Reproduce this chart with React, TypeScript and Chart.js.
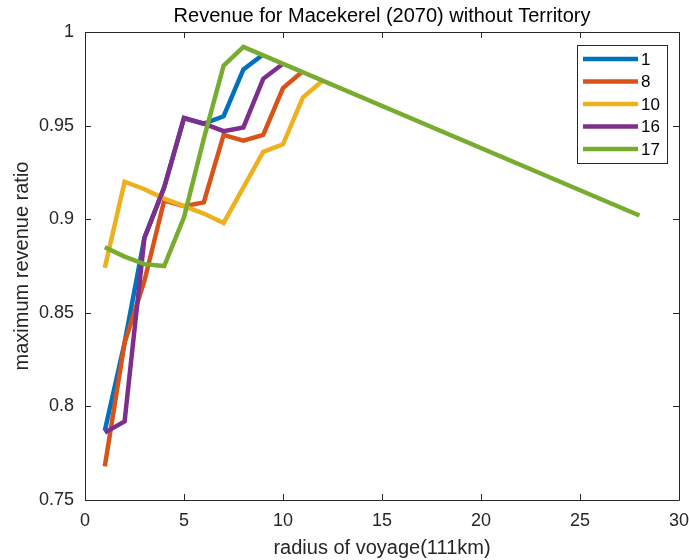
import React, { useEffect, useRef } from 'react';
import { Chart, registerables } from 'chart.js';

Chart.register(...registerables);

const TITLE = 'Revenue for Macekerel (2070) without Territory';
const X_LABEL = 'radius of voyage(111km)';
const Y_LABEL = 'maximum revenue ratio';

const SERIES_NAMES = ['1', '8', '10', '16', '17'];
const COLORS = ['#0072BD', '#D95319', '#EDB120', '#7E2F8E', '#77AC30'];

const X_TICKS = [0, 5, 10, 15, 20, 25, 30];
const Y_TICKS = [0.75, 0.8, 0.85, 0.9, 0.95, 1];

const x1 = [1, 2, 3, 4, 5, 6, 7, 8, 9];
const y1 = [0.787, 0.834, 0.89, 0.917, 0.954, 0.951, 0.955, 0.98, 0.988];

const x8 = [1, 2, 3, 4, 5, 6, 7, 8, 9, 10, 11];
const y8 = [0.768, 0.834, 0.867, 0.91, 0.907, 0.909, 0.945, 0.942, 0.945, 0.97, 0.979];

const x10 = [1, 2, 3, 4, 5, 6, 7, 8, 9, 10, 11, 12];
const y10 = [0.874, 0.92, 0.916, 0.911, 0.907, 0.903, 0.898, 0.917, 0.936, 0.94, 0.965, 0.974];

const x16 = [1, 2, 3, 4, 5, 6, 7, 8, 9, 10];
const y16 = [0.786, 0.792, 0.89, 0.917, 0.954, 0.951, 0.947, 0.949, 0.975, 0.983];

const x17 = [1, 2, 3, 4, 5, 6, 7, 8, 28];
const y17 = [0.885, 0.88, 0.876, 0.875, 0.901, 0.943, 0.982, 0.992, 0.902];

const XS = [x1, x8, x10, x16, x17];
const YS = [y1, y8, y10, y16, y17];

const FONT = '"Liberation Sans", Arial, Helvetica, sans-serif';
const AXIS_COLOR = '#262626';

const framePlugin = {
  id: 'matlabFrame',
  afterDraw(chart: any) {
    const { ctx, chartArea } = chart;
    const { left, right, top, bottom } = chartArea;
    const xs = chart.scales.x;
    const ys = chart.scales.y;
    ctx.save();
    ctx.strokeStyle = AXIS_COLOR;
    ctx.lineWidth = 1;
    ctx.beginPath();
    ctx.rect(Math.round(left) + 0.5, Math.round(top) + 0.5, Math.round(right - left), Math.round(bottom - top));
    ctx.stroke();
    const tl = 6;
    ctx.beginPath();
    X_TICKS.forEach((v) => {
      const px = Math.round(xs.getPixelForValue(v)) + 0.5;
      ctx.moveTo(px, bottom);
      ctx.lineTo(px, bottom - tl);
      ctx.moveTo(px, top);
      ctx.lineTo(px, top + tl);
    });
    Y_TICKS.forEach((v) => {
      const py = Math.round(ys.getPixelForValue(v)) + 0.5;
      ctx.moveTo(left, py);
      ctx.lineTo(left + tl, py);
      ctx.moveTo(right, py);
      ctx.lineTo(right - tl, py);
    });
    ctx.stroke();

    // title
    ctx.fillStyle = '#000000';
    ctx.font = `20px ${FONT}`;
    ctx.textAlign = 'center';
    ctx.textBaseline = 'alphabetic';
    ctx.fillText(TITLE, (left + right) / 2, 22);

    // legend
    const bx = 577, by = 45, bw = 90, bh = 118;
    ctx.fillStyle = '#ffffff';
    ctx.fillRect(bx, by, bw, bh);
    ctx.strokeStyle = AXIS_COLOR;
    ctx.lineWidth = 1;
    ctx.strokeRect(bx + 0.5, by + 0.5, bw, bh);
    chart.data.datasets.forEach((ds: any, i: number) => {
      const cy = 59 + i * 22.5;
      ctx.strokeStyle = ds.borderColor;
      ctx.lineWidth = 4.5;
      ctx.beginPath();
      ctx.moveTo(583, cy);
      ctx.lineTo(638, cy);
      ctx.stroke();
      ctx.fillStyle = '#000000';
      ctx.font = `17px ${FONT}`;
      ctx.textAlign = 'left';
      ctx.textBaseline = 'middle';
      ctx.fillText(ds.label, 641, cy + 1);
    });
    ctx.restore();
  },
};

export default function App() {
  const ref = useRef<HTMLCanvasElement | null>(null);

  useEffect(() => {
    document.body.style.margin = '0';
    const canvas = ref.current;
    if (!canvas) return;
    const datasets = SERIES_NAMES.map((name, i) => ({
      label: name,
      data: XS[i].map((x, j) => ({ x, y: YS[i][j] })),
      borderColor: COLORS[i],
      backgroundColor: COLORS[i],
      borderWidth: 4.5,
      pointRadius: 0,
      fill: false,
      tension: 0,
      borderJoinStyle: 'miter' as const,
      order: SERIES_NAMES.length - i,
    }));
    const chart = new Chart(canvas, {
      type: 'line',
      data: { datasets },
      options: {
        animation: false,
        responsive: false,
        maintainAspectRatio: false,
        layout: { padding: { left: 0, right: 0, top: 32, bottom: 0 } },
        plugins: {
          legend: { display: false },
          title: { display: false },
          tooltip: { enabled: false },
        },
        scales: {
          x: {
            type: 'linear',
            min: 0,
            max: 30,
            grid: { display: false, drawTicks: false },
            border: { display: false },
            ticks: {
              stepSize: 5,
              padding: 10,
              color: AXIS_COLOR,
              font: { family: FONT, size: 18 },
              maxRotation: 0,
            },
            title: {
              display: true,
              text: X_LABEL,
              color: AXIS_COLOR,
              font: { family: FONT, size: 20 },
              padding: { top: 0, bottom: 0 },
            },
            afterFit(scale: any) {
              scale.height = 60;
              scale.paddingRight = 10;
            },
          },
          y: {
            type: 'linear',
            min: 0.75,
            max: 1,
            grid: { display: false, drawTicks: false },
            border: { display: false },
            ticks: {
              stepSize: 0.05,
              padding: 11,
              color: AXIS_COLOR,
              font: { family: FONT, size: 18 },
              callback: (v: any) => String(Number(Number(v).toFixed(2))),
            },
            title: {
              display: true,
              text: Y_LABEL,
              color: AXIS_COLOR,
              font: { family: FONT, size: 20 },
              padding: { top: 10, bottom: 0 },
            },
            afterFit(scale: any) {
              scale.width = 85;
            },
          },
        },
      },
      plugins: [framePlugin],
    });
    return () => chart.destroy();
  }, []);

  return (
    <div style={{ position: 'absolute', left: 0, top: 0, width: 689, height: 560 }}>
      <canvas ref={ref} width={689} height={560} style={{ display: 'block', width: 689, height: 560 }} />
    </div>
  );
}
